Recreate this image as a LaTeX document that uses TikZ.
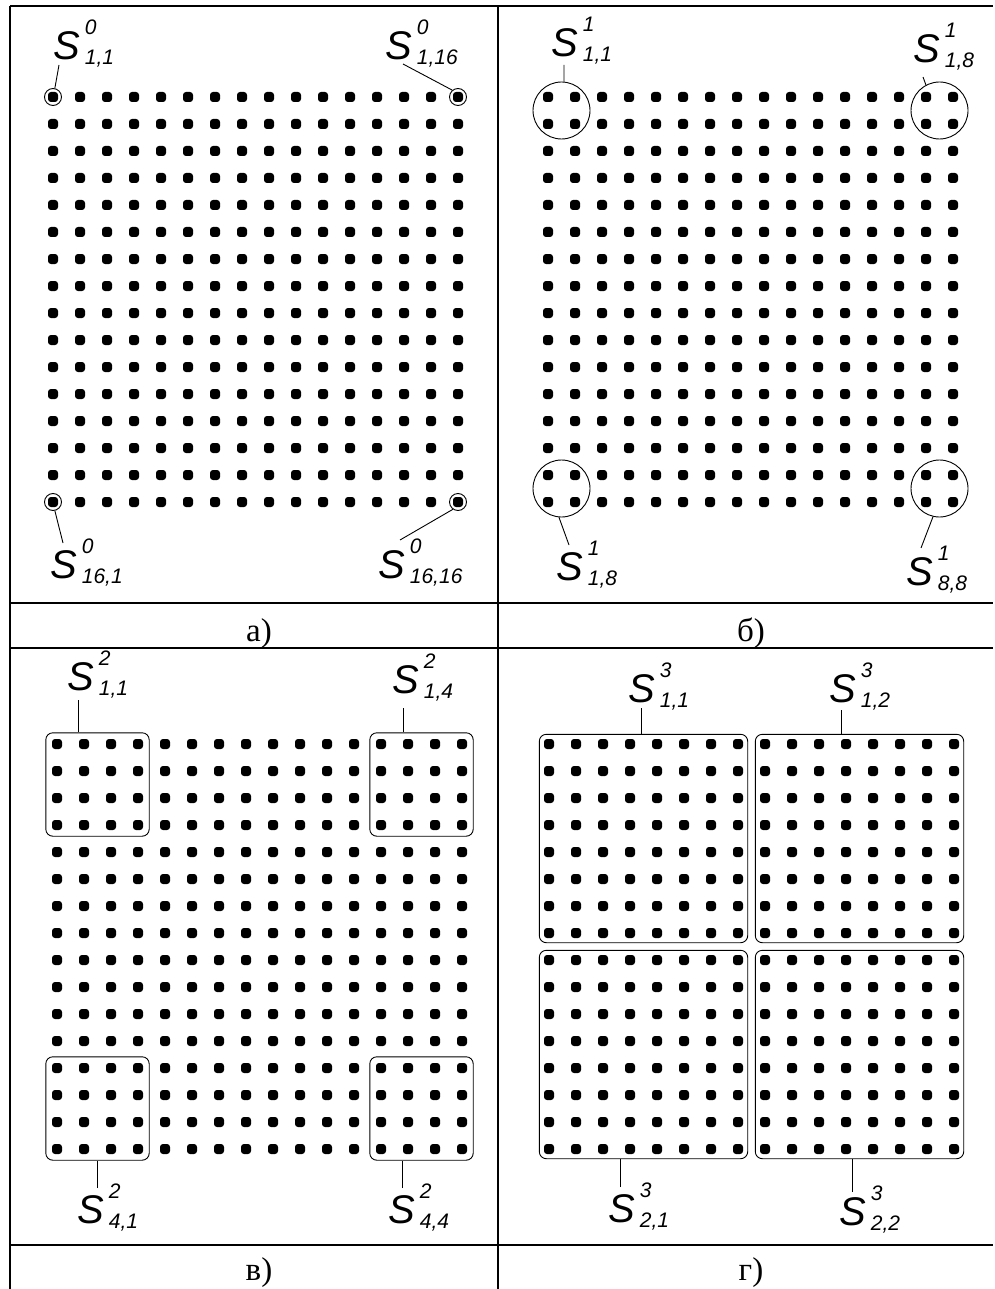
\documentclass[tikz,border=0pt]{standalone}
\usepackage{fontspec}
\setmainfont{Liberation Serif}
\newfontfamily\labfont{Liberation Sans}
\usetikzlibrary{calc,fit}

% label S with upper and lower index
\newcommand{\slab}[2]{{\labfont\itshape\fontsize{40}{40}\selectfont S\kern5pt\fontsize{21}{21}\selectfont\rlap{\raisebox{25pt}{#1}}\raisebox{-5pt}{#2}}}

% 16x16 field of points, named <prefix>-<row>-<col>
\newcommand{\dotgrid}[3]{%
  \foreach \row in {1,...,16}{%
    \foreach \col in {1,...,16}{%
      \node[dotsq] (#1-\row-\col) at ({#2+27*(\col-1)},{#3+27*(\row-1)}) {};
    }%
  }%
}

\tikzset{
  dotsq/.style={rectangle, fill=black, minimum size=10pt, inner sep=0pt, rounded corners=3pt},
  ring/.style={circle, draw, line width=0.9pt, inner sep=0pt},
  blockbox/.style={rectangle, draw, line width=0.9pt, rounded corners=7pt},
  lab/.style={anchor=base west, inner sep=0pt},
  lead/.style={line width=0.9pt},
  rule/.style={line width=2.2pt},
  capnode/.style={anchor=base, inner sep=0pt, font=\fontsize{33}{33}\selectfont}
}

\begin{document}
\begin{tikzpicture}[x=1pt, y=-1pt]
    \useasboundingbox (0,0) rectangle (994,1289);

    % Draw the table
    \draw[rule] (10,6) -- (993,6);
    \draw[rule] (10,603) -- (993,603);
    \draw[rule] (10,648) -- (993,648);
    \draw[rule] (10,1245) -- (993,1245);
    \draw[rule] (10,6) -- (10,1289);
    \draw[rule] (498,6) -- (498,1289);

    % Define the four fields of points
    \dotgrid{a}{53}{97}
    \dotgrid{b}{548}{97}
    \dotgrid{c}{57}{744}
    \dotgrid{d}{549}{744}

    % a) single points
    \node[ring, minimum size=17pt] (ca1) at (a-1-1) {};
    \node[ring, minimum size=17pt] (ca2) at (a-1-16) {};
    \node[ring, minimum size=17pt] (ca3) at (a-16-1) {};
    \node[ring, minimum size=17pt] (ca4) at (a-16-16) {};
    \node[lab] (la1) at (53,60) {\slab{0}{1,1}};
    \node[lab] (la2) at (385,60) {\slab{0}{1,16}};
    \node[lab] (la3) at (50,578) {\slab{0}{16,1}};
    \node[lab] (la4) at (378,578) {\slab{0}{16,16}};
    \draw[lead] (ca1.78) -- ([shift={(6,5)}]la1.base west);
    \draw[lead] (ca2.130) -- ([shift={(18,4)}]la2.base west);
    \draw[lead] (ca3.-78) -- ([shift={(13,-35)}]la3.base west);
    \draw[lead] (ca4.-125) -- ([shift={(22,-38)}]la4.base west);

    % b) groups of 2x2
    \node[ring, minimum size=57pt] (cb1) at ($(b-1-1)!0.5!(b-2-2)$) {};
    \node[ring, minimum size=57pt] (cb2) at ($(b-1-15)!0.5!(b-2-16)$) {};
    \node[ring, minimum size=57pt] (cb3) at ($(b-15-1)!0.5!(b-16-2)$) {};
    \node[ring, minimum size=57pt] (cb4) at ($(b-15-15)!0.5!(b-16-16)$) {};
    \node[lab] (lb1) at (551,57) {\slab{1}{1,1}};
    \node[lab] (lb2) at (913,63) {\slab{1}{1,8}};
    \node[lab] (lb3) at (556,580) {\slab{1}{1,8}};
    \node[lab] (lb4) at (906,585) {\slab{1}{8,8}};
    \draw[lead] (cb1.85) -- ([shift={(13,8)}]lb1.base west);
    \draw[lead] (cb2.118) -- ([shift={(10,14)}]lb2.base west);
    \draw[lead] (cb3.-95) -- ([shift={(13,-35)}]lb3.base west);
    \draw[lead] (cb4.-103) -- ([shift={(15,-37)}]lb4.base west);

    % c) groups of 4x4
    \node[blockbox, inner sep=6pt, fit=(c-1-1)(c-4-4)] (gc1) {};
    \node[blockbox, inner sep=6pt, fit=(c-1-13)(c-4-16)] (gc2) {};
    \node[blockbox, inner sep=6pt, fit=(c-13-1)(c-16-4)] (gc3) {};
    \node[blockbox, inner sep=6pt, fit=(c-13-13)(c-16-16)] (gc4) {};
    \node[lab] (lc1) at (67,690) {\slab{2}{1,1}};
    \node[lab] (lc2) at (392,693) {\slab{2}{1,4}};
    \node[lab] (lc3) at (77,1223) {\slab{2}{4,1}};
    \node[lab] (lc4) at (388,1223) {\slab{2}{4,4}};
    \coordinate (tc1) at ([shift={(11,10)}]lc1.base west);
    \coordinate (tc2) at ([shift={(11,15)}]lc2.base west);
    \coordinate (tc3) at ([shift={(20,-35)}]lc3.base west);
    \coordinate (tc4) at ([shift={(14,-35)}]lc4.base west);
    \draw[lead] (tc1) -- (tc1 |- gc1.north);
    \draw[lead] (tc2) -- (tc2 |- gc2.north);
    \draw[lead] (tc3) -- (tc3 |- gc3.south);
    \draw[lead] (tc4) -- (tc4 |- gc4.south);

    % d) groups of 8x8
    \node[blockbox, inner sep=4.5pt, fit=(d-1-1)(d-8-8)] (gd1) {};
    \node[blockbox, inner sep=4.5pt, fit=(d-1-9)(d-8-16)] (gd2) {};
    \node[blockbox, inner sep=4.5pt, fit=(d-9-1)(d-16-8)] (gd3) {};
    \node[blockbox, inner sep=4.5pt, fit=(d-9-9)(d-16-16)] (gd4) {};
    \node[lab] (ld1) at (628,702) {\slab{3}{1,1}};
    \node[lab] (ld2) at (829,702) {\slab{3}{1,2}};
    \node[lab] (ld3) at (608,1222) {\slab{3}{2,1}};
    \node[lab] (ld4) at (839,1225) {\slab{3}{2,2}};
    \coordinate (td1) at ([shift={(13,6)}]ld1.base west);
    \coordinate (td2) at ([shift={(12,8)}]ld2.base west);
    \coordinate (td3) at ([shift={(12,-35)}]ld3.base west);
    \coordinate (td4) at ([shift={(13,-33)}]ld4.base west);
    \draw[lead] (td1) -- (td1 |- gd1.north);
    \draw[lead] (td2) -- (td2 |- gd2.north);
    \draw[lead] (td3) -- (td3 |- gd3.south);
    \draw[lead] (td4) -- (td4 |- gd4.south);

    % captions
    \node[capnode] (capa) at (259,641) {а)};
    \node[capnode] (capb) at (751,641) {б)};
    \node[capnode] (capc) at (259,1280) {в)};
    \node[capnode] (capd) at (751,1280) {г)};
\end{tikzpicture}
\end{document}
